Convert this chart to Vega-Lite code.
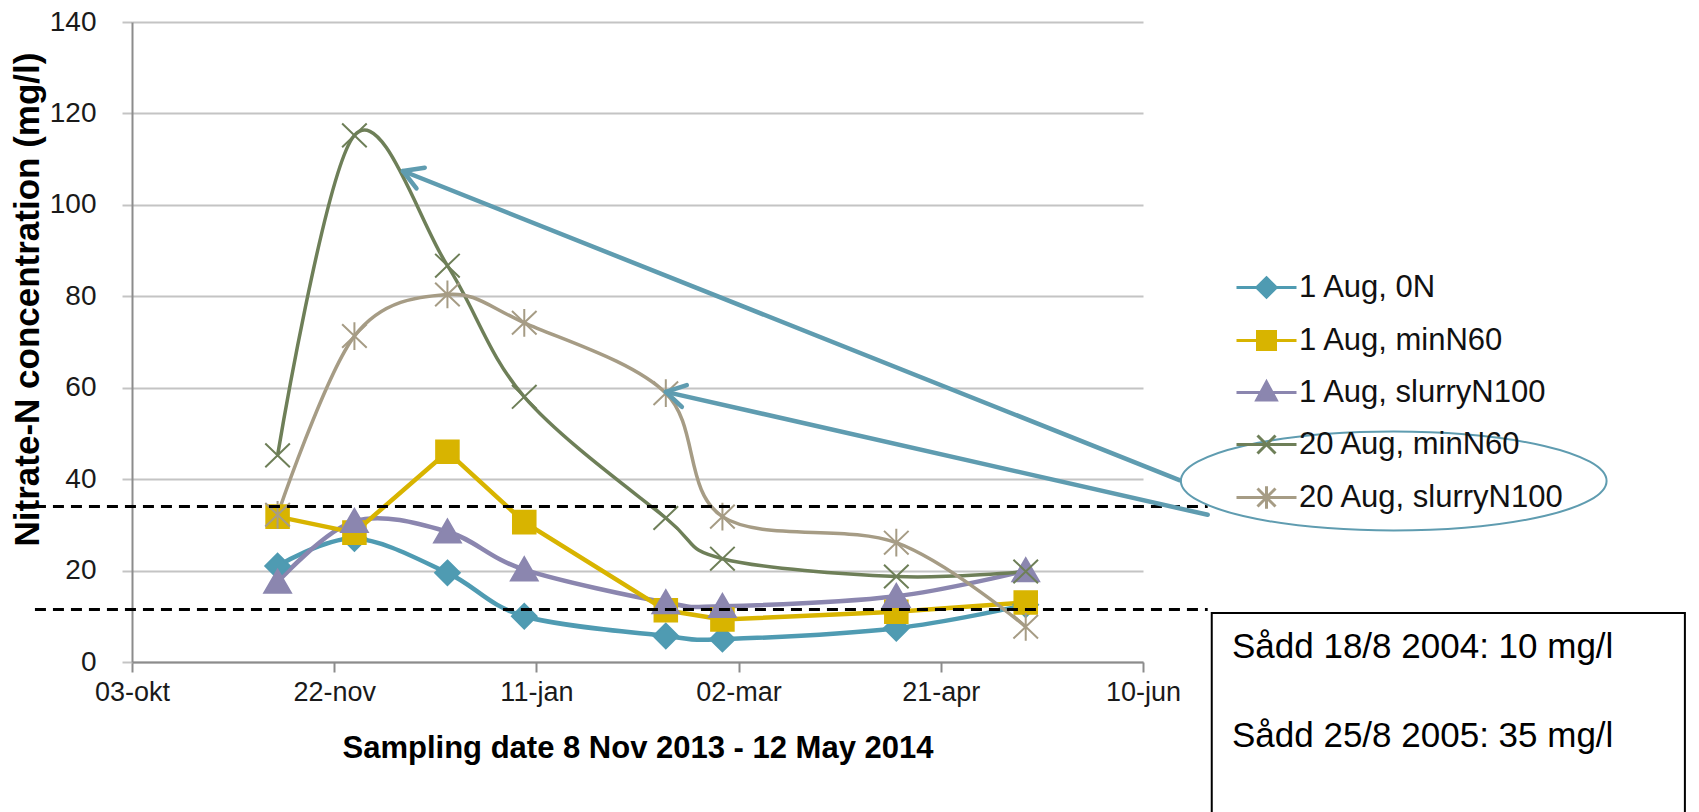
{
  "$schema": "https://vega.github.io/schema/vega-lite/v6.json",
  "width": 1011,
  "height": 640,
  "autosize": {"type": "none"},
  "padding": {"left": 132, "top": 22, "right": 556, "bottom": 150},
  "background": "#ffffff",
  "config": {
    "view": {"stroke": null},
    "font": "Liberation Sans",
    "axis": {"labelFont": "Liberation Sans", "titleFont": "Liberation Sans"}
  },
  "datasets": {
    "nitrate": [
      {"series": "1 Aug, 0N", "date": "2013-11-08", "value": 21},
      {"series": "1 Aug, 0N", "date": "2013-11-27", "value": 27},
      {"series": "1 Aug, 0N", "date": "2013-12-20", "value": 19.5},
      {"series": "1 Aug, 0N", "date": "2014-01-08", "value": 10},
      {"series": "1 Aug, 0N", "date": "2014-02-12", "value": 5.7},
      {"series": "1 Aug, 0N", "date": "2014-02-26", "value": 5},
      {"series": "1 Aug, 0N", "date": "2014-04-10", "value": 7.4},
      {"series": "1 Aug, 0N", "date": "2014-05-12", "value": 12.5},
      {"series": "1 Aug, minN60", "date": "2013-11-08", "value": 31.8},
      {"series": "1 Aug, minN60", "date": "2013-11-27", "value": 28.3},
      {"series": "1 Aug, minN60", "date": "2013-12-20", "value": 46},
      {"series": "1 Aug, minN60", "date": "2014-01-08", "value": 30.6},
      {"series": "1 Aug, minN60", "date": "2014-02-12", "value": 11.3},
      {"series": "1 Aug, minN60", "date": "2014-02-26", "value": 9.3},
      {"series": "1 Aug, minN60", "date": "2014-04-10", "value": 11},
      {"series": "1 Aug, minN60", "date": "2014-05-12", "value": 13},
      {"series": "1 Aug, slurryN100", "date": "2013-11-08", "value": 17.5},
      {"series": "1 Aug, slurryN100", "date": "2013-11-27", "value": 30.8},
      {"series": "1 Aug, slurryN100", "date": "2013-12-20", "value": 28.5},
      {"series": "1 Aug, slurryN100", "date": "2014-01-08", "value": 20.2},
      {"series": "1 Aug, slurryN100", "date": "2014-02-12", "value": 13},
      {"series": "1 Aug, slurryN100", "date": "2014-02-26", "value": 12.2},
      {"series": "1 Aug, slurryN100", "date": "2014-04-10", "value": 14.4},
      {"series": "1 Aug, slurryN100", "date": "2014-05-12", "value": 20},
      {"series": "20 Aug, minN60", "date": "2013-11-08", "value": 45.2},
      {"series": "20 Aug, minN60", "date": "2013-11-27", "value": 115.2},
      {"series": "20 Aug, minN60", "date": "2013-12-20", "value": 86.7},
      {"series": "20 Aug, minN60", "date": "2014-01-08", "value": 58},
      {"series": "20 Aug, minN60", "date": "2014-02-12", "value": 31.5},
      {"series": "20 Aug, minN60", "date": "2014-02-26", "value": 22.6},
      {"series": "20 Aug, minN60", "date": "2014-04-10", "value": 18.7},
      {"series": "20 Aug, minN60", "date": "2014-05-12", "value": 19.8},
      {"series": "20 Aug, slurryN100", "date": "2013-11-08", "value": 32.2},
      {"series": "20 Aug, slurryN100", "date": "2013-11-27", "value": 71.3},
      {"series": "20 Aug, slurryN100", "date": "2013-12-20", "value": 80.4},
      {"series": "20 Aug, slurryN100", "date": "2014-01-08", "value": 74.2},
      {"series": "20 Aug, slurryN100", "date": "2014-02-12", "value": 58.8},
      {"series": "20 Aug, slurryN100", "date": "2014-02-26", "value": 31.8},
      {"series": "20 Aug, slurryN100", "date": "2014-04-10", "value": 26.1},
      {"series": "20 Aug, slurryN100", "date": "2014-05-12", "value": 7.7}
    ],
    "refs": [
      {"start": "2013-09-09", "end": "2014-06-26", "value": 34},
      {"start": "2013-09-09", "end": "2014-06-26", "value": 11.5}
    ],
    "arrows": [
      {"arrow": "a1", "part": "tail", "date": "2014-06-19", "value": 39.8},
      {"arrow": "a1", "part": "tip", "date": "2013-12-09", "value": 107.4},
      {"arrow": "a2", "part": "tail", "date": "2014-06-26", "value": 32.2},
      {"arrow": "a2", "part": "tip", "date": "2014-02-12", "value": 59.1}
    ],
    "callout": [
      {"date": "2014-08-11", "value": 39.6}
    ],
    "notebox": [
      {"x0": "2014-06-27", "x1": "2014-10-22", "y0": 10.7, "y1": -40}
    ],
    "notes": [
      {"date": "2014-07-02", "value": 0.9, "text": "Sådd 18/8 2004: 10 mg/l"},
      {"date": "2014-07-02", "value": -18.5, "text": "Sådd 25/8 2005: 35 mg/l"}
    ]
  },
  "layer": [
    {
      "data": {"name": "nitrate"},
      "encoding": {
        "x": {
          "field": "date",
          "type": "temporal",
          "scale": {
            "type": "utc",
            "domain": [
              {"year": 2013, "month": 10, "date": 3, "utc": true},
              {"year": 2014, "month": 6, "date": 10, "utc": true}
            ],
            "nice": false
          },
          "axis": {
            "values": [
              {"year": 2013, "month": 10, "date": 3, "utc": true},
              {"year": 2013, "month": 11, "date": 22, "utc": true},
              {"year": 2014, "month": 1, "date": 11, "utc": true},
              {"year": 2014, "month": 3, "date": 2, "utc": true},
              {"year": 2014, "month": 4, "date": 21, "utc": true},
              {"year": 2014, "month": 6, "date": 10, "utc": true}
            ],
            "labelExpr": "utcFormat(datum.value, '%d') + '-' + ['jan','feb','mar','apr','maj','jun','jul','aug','sep','okt','nov','dec'][utcmonth(datum.value)]",
            "title": "Sampling date 8 Nov 2013 - 12 May 2014",
            "grid": false,
            "domainColor": "#8c8c8c",
            "domainWidth": 2,
            "tickColor": "#8c8c8c",
            "tickWidth": 2,
            "tickSize": 10,
            "labelFontSize": 27,
            "labelColor": "#1a1a1a",
            "labelPadding": 7,
            "labelFlush": false,
            "labelOverlap": false,
            "titleFontSize": 31,
            "titleFontWeight": "bold",
            "titleColor": "#000000",
            "titleY": 86,
            "titleBaseline": "middle"
          }
        },
        "y": {
          "field": "value",
          "type": "quantitative",
          "scale": {"domain": [0, 140], "nice": false},
          "axis": {
            "values": [0, 20, 40, 60, 80, 100, 120, 140],
            "grid": true,
            "gridColor": "#c4c4c4",
            "gridWidth": 2,
            "domainColor": "#8c8c8c",
            "domainWidth": 2,
            "tickColor": "#c4c4c4",
            "tickWidth": 2,
            "tickSize": 10,
            "labelFontSize": 28,
            "labelColor": "#1a1a1a",
            "labelPadding": 26,
            "title": "Nitrate-N concentration (mg/l)",
            "titleFontSize": 35,
            "titleFontWeight": "bold",
            "titleColor": "#000000",
            "titleAngle": -90,
            "titleX": -105,
            "titleY": 277,
            "titleBaseline": "middle",
            "titleAlign": "center"
          }
        },
        "color": {
          "field": "series",
          "type": "nominal",
          "scale": {
            "domain": ["1 Aug, 0N", "1 Aug, minN60", "1 Aug, slurryN100", "20 Aug, minN60", "20 Aug, slurryN100"],
            "range": ["#4f9bb2", "#d8b400", "#8b86af", "#6e7f58", "#a69c85"]
          },
          "legend": null
        }
      },
      "layer": [
        {
          "transform": [{"filter": {"field": "series", "oneOf": ["1 Aug, 0N", "1 Aug, slurryN100"]}}],
          "mark": {"type": "line", "interpolate": "cardinal", "strokeWidth": 4.5},
          "encoding": {
            "color": {
              "field": "series",
              "type": "nominal",
              "scale": {
                "domain": ["1 Aug, 0N", "1 Aug, minN60", "1 Aug, slurryN100", "20 Aug, minN60", "20 Aug, slurryN100"],
                "range": ["#4f9bb2", "#d8b400", "#8b86af", "#6e7f58", "#a69c85"]
              },
              "legend": {
                "orient": "none",
                "legendX": 1119,
                "legendY": 250,
                "title": null,
                "padding": 0,
                "labelFont": "Liberation Sans",
                "labelFontSize": 31,
                "labelColor": "#111111",
                "labelOffset": 17,
                "labelLimit": 400,
                "symbolSize": 225,
                "symbolStrokeWidth": 3,
                "symbolOpacity": 1,
                "rowPadding": 20,
                "symbolType": {"expr": "datum.value === '1 Aug, 0N' ? 'M-4,0L4,0M0,-1.3L1.3,0L0,1.3L-1.3,0Z' : datum.value === '1 Aug, minN60' ? 'M-4,0L4,0M-1.2,-1.2L1.2,-1.2L1.2,1.2L-1.2,1.2Z' : datum.value === '1 Aug, slurryN100' ? 'M-4,0L4,0M0,-1.4L1.3,1L-1.3,1Z' : datum.value === '20 Aug, minN60' ? 'M-4,0L4,0M-1.2,-1.2L1.2,1.2M-1.2,1.2L1.2,-1.2' : 'M-4,0L4,0M-1.2,-1.2L1.2,1.2M-1.2,1.2L1.2,-1.2M0,-1.5L0,1.5'"},
                "symbolFillColor": {"expr": "datum.value === '1 Aug, 0N' ? '#4f9bb2' : datum.value === '1 Aug, minN60' ? '#d8b400' : datum.value === '1 Aug, slurryN100' ? '#8b86af' : 'transparent'"}
              }
            }
          }
        },
        {
          "transform": [{"filter": {"field": "series", "equal": "1 Aug, minN60"}}],
          "mark": {"type": "line", "strokeWidth": 4.5}
        },
        {
          "transform": [{"filter": {"field": "series", "oneOf": ["20 Aug, minN60", "20 Aug, slurryN100"]}}],
          "mark": {"type": "line", "interpolate": "cardinal", "strokeWidth": 3.5}
        },
        {
          "mark": {"type": "point", "filled": false, "strokeWidth": 2, "size": 420, "opacity": 1},
          "encoding": {
            "shape": {
              "field": "series",
              "type": "nominal",
              "scale": {
                "range": [
                  "M0,-1.2L1.2,0L0,1.2L-1.2,0Z",
                  "M-1.1,-1.1L1.1,-1.1L1.1,1.1L-1.1,1.1Z",
                  "M0,-1.2L1.3,1.05L-1.3,1.05Z",
                  "M-1.2,-1.15L1.2,1.15M-1.2,1.15L1.2,-1.15",
                  "M-1.2,-1.15L1.2,1.15M-1.2,1.15L1.2,-1.15M0,-1.35L0,1.35"
                ]
              },
              "legend": null
            },
            "fill": {
              "field": "series",
              "type": "nominal",
              "scale": {
                "range": ["#4f9bb2", "#d8b400", "#8b86af", "transparent", "transparent"]
              },
              "legend": null
            }
          }
        }
      ]
    },
    {
      "data": {"name": "refs"},
      "mark": {"type": "rule", "color": "#000000", "strokeWidth": 3, "strokeDash": [11, 7]},
      "encoding": {
        "x": {"field": "start", "type": "temporal"},
        "x2": {"field": "end"},
        "y": {"field": "value", "type": "quantitative"}
      }
    },
    {
      "data": {"name": "arrows"},
      "mark": {"type": "line", "color": "#5f9cb0", "strokeWidth": 4.5, "strokeCap": "round"},
      "encoding": {
        "x": {"field": "date", "type": "temporal"},
        "y": {"field": "value", "type": "quantitative"},
        "detail": {"field": "arrow"}
      }
    },
    {
      "data": {"name": "arrows"},
      "transform": [{"filter": "datum.arrow === 'a1' && datum.part === 'tip'"}],
      "mark": {"type": "point", "shape": "M1.7,-1L0,0L1.7,1", "size": 500, "angle": 21.7, "filled": false, "color": "#5f9cb0", "strokeWidth": 4.5, "opacity": 1, "strokeCap": "round", "strokeJoin": "round"},
      "encoding": {
        "x": {"field": "date", "type": "temporal"},
        "y": {"field": "value", "type": "quantitative"}
      }
    },
    {
      "data": {"name": "arrows"},
      "transform": [{"filter": "datum.arrow === 'a2' && datum.part === 'tip'"}],
      "mark": {"type": "point", "shape": "M1.7,-1L0,0L1.7,1", "size": 500, "angle": 12.8, "filled": false, "color": "#5f9cb0", "strokeWidth": 4.5, "opacity": 1, "strokeCap": "round", "strokeJoin": "round"},
      "encoding": {
        "x": {"field": "date", "type": "temporal"},
        "y": {"field": "value", "type": "quantitative"}
      }
    },
    {
      "data": {"name": "callout"},
      "mark": {"type": "point", "shape": "M-4.3,0A4.3,1 0 1,0 4.3,0A4.3,1 0 1,0 -4.3,0Z", "size": 9801, "filled": false, "color": "#5f9cb0", "strokeWidth": 2, "opacity": 1},
      "encoding": {
        "x": {"field": "date", "type": "temporal"},
        "y": {"field": "value", "type": "quantitative"}
      }
    },
    {
      "data": {"name": "notebox"},
      "mark": {"type": "rect", "fill": "#ffffff", "stroke": "#000000", "strokeWidth": 2},
      "encoding": {
        "x": {"field": "x0", "type": "temporal"},
        "x2": {"field": "x1"},
        "y": {"field": "y0", "type": "quantitative"},
        "y2": {"field": "y1"}
      }
    },
    {
      "data": {"name": "notes"},
      "mark": {"type": "text", "align": "left", "baseline": "alphabetic", "fontSize": 35, "font": "Liberation Sans", "color": "#000000"},
      "encoding": {
        "x": {"field": "date", "type": "temporal"},
        "y": {"field": "value", "type": "quantitative"},
        "text": {"field": "text"}
      }
    }
  ]
}
